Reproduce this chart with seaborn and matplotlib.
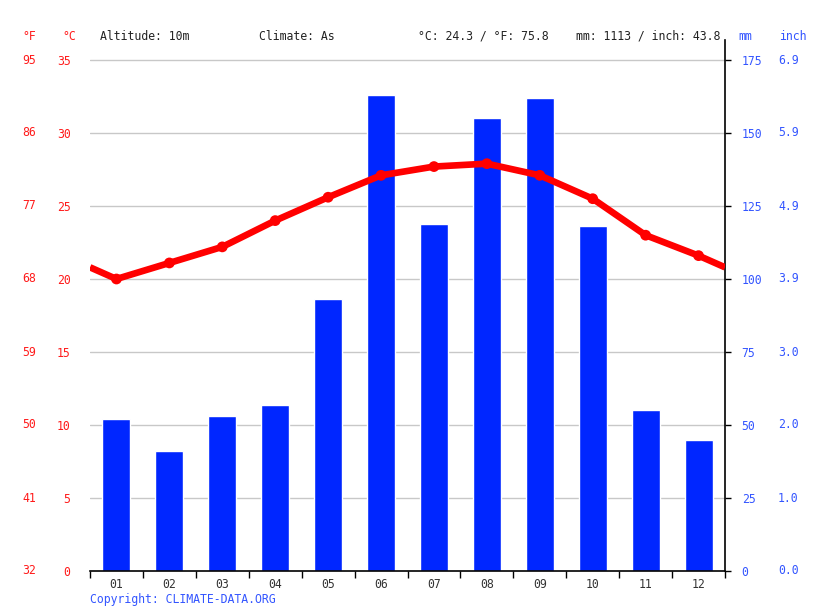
import numpy as np
import pandas as pd
import matplotlib
matplotlib.use("Agg")
import matplotlib.pyplot as plt
import matplotlib.transforms as mtransforms
import seaborn as sns

months = ["01", "02", "03", "04", "05", "06", "07", "08", "09", "10", "11", "12"]
precip_mm = [52, 41, 53, 57, 93, 163, 119, 155, 162, 118, 55, 45]
temp_c = [20.0, 21.1, 22.2, 24.0, 25.6, 27.1, 27.7, 27.9, 27.1, 25.5, 23.0, 21.6]
c_ticks = [0, 5, 10, 15, 20, 25, 30, 35]
mm_ticks = [0, 25, 50, 75, 100, 125, 150, 175]
header_texts = ["Altitude: 10m", "Climate: As", "°C: 24.3 / °F: 75.8", "mm: 1113 / inch: 43.8"]

sns.set_style("white")
FONT = "DejaVu Sans Mono"
plt.rcParams["font.family"] = [FONT]
FS = 8.3
RED = "#ff1a1a"
BLUE = "#3355ff"
BAR = "#0026ff"

W, H = 815, 611
fig = plt.figure(figsize=(W / 100, H / 100), dpi=100)
left, right, top, bottom = 90, 725, 40, 571
ax = fig.add_axes([left / W, 1 - bottom / H, (right - left) / W, (bottom - top) / H])
ext = (bottom - top) / (571 - 60)
axT = ax.twinx()

df = pd.DataFrame({"month": months, "mm": precip_mm})
sns.barplot(data=df, x="month", y="mm", color=BAR, saturation=1, width=0.53, ax=ax, zorder=2)
ax.set_xlim(-0.5, 11.5)
ax.set_ylim(0, 175 * ext)
ax.set_axisbelow(True)
for t in mm_ticks[1:]:
    ax.axhline(t, color="#c8c8c8", lw=1, zorder=0)

ax.yaxis.tick_right()
ax.set_yticks(mm_ticks)
ax.set_yticklabels([str(v) for v in mm_ticks], color=BLUE, fontsize=FS, ha="left")
ax.tick_params(axis="y", left=False, right=True, length=4, width=1, color="black", pad=8)
ax.set_xlabel("")
ax.set_ylabel("")
ax.set_xticks(range(12))
ax.set_xticklabels(months, color="#333333", fontsize=FS)
ax.set_xticks(np.arange(-0.5, 12, 1), minor=True)
ax.tick_params(axis="x", which="major", length=0, pad=5)
ax.tick_params(axis="x", which="minor", bottom=True, length=5, width=1, color="black")
for s in ["left", "top"]:
    ax.spines[s].set_visible(False)
ax.spines["right"].set_visible(True)
ax.spines["right"].set_color("black")
ax.spines["bottom"].set_color("black")
ax.spines["right"].set_linewidth(1.2)
ax.spines["bottom"].set_linewidth(1.2)

# inch labels
trans_r = mtransforms.blended_transform_factory(fig.transFigure, ax.transData)
for v in mm_ticks:
    fig.text(778 / W, v, f"{v / 25.4:.1f}", transform=trans_r, color=BLUE, fontsize=FS,
             ha="left", va="center")

# temperature axis
axT.set_ylim(0, 35 * ext)
axT.set_xlim(-0.5, 11.5)
xs = list(range(12))
edge = (temp_c[0] + temp_c[-1]) / 2
line_x = [-0.5] + xs + [11.5]
line_y = [edge] + temp_c + [edge]
sns.lineplot(x=line_x, y=line_y, color="#ff0000", lw=4.8, ax=axT, sort=False,
             solid_capstyle="butt")
sns.scatterplot(x=xs, y=temp_c, color="#ff0000", s=60, edgecolor="none", ax=axT, zorder=5)
axT.yaxis.tick_left()
axT.set_yticks(c_ticks)
axT.set_yticklabels([str(v) for v in c_ticks], color=RED, fontsize=FS)
axT.tick_params(axis="y", left=True, right=False, length=0, pad=14)
axT.set_ylabel("")
for s in axT.spines.values():
    s.set_visible(False)

trans_l = mtransforms.blended_transform_factory(fig.transFigure, axT.transData)
for v in c_ticks:
    fig.text(36 / W, v, f"{v * 9 / 5 + 32:.0f}", transform=trans_l, color=RED, fontsize=FS,
             ha="right", va="center")

# header
hy = 1 - 36 / H
fig.text(36 / W, hy, "°F", color=RED, fontsize=FS, ha="right", va="center")
fig.text(76 / W, hy, "°C", color=RED, fontsize=FS, ha="right", va="center")
for xp, s in zip([100, 259, 418, 576], header_texts):
    fig.text(xp / W, hy, s, color="#222222", fontsize=FS, ha="left", va="center")
fig.text(738 / W, hy, "mm", color=BLUE, fontsize=FS, ha="left", va="center")
fig.text(779 / W, hy, "inch", color=BLUE, fontsize=FS, ha="left", va="center")
fig.text(90 / W, 1 - 600 / H, "Copyright: CLIMATE-DATA.ORG", color=BLUE, fontsize=FS,
         ha="left", va="center")

fig.savefig("out.png", dpi=100)
